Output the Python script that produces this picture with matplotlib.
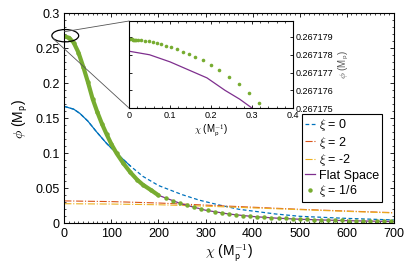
import numpy as np
import matplotlib
matplotlib.use("Agg")
import matplotlib.pyplot as plt
from matplotlib.patches import Ellipse, ConnectionPatch
from matplotlib.ticker import MultipleLocator, FuncFormatter, FormatStrFormatter

plt.rcParams['font.family'] = ['Liberation Sans', 'DejaVu Sans']
plt.rcParams['mathtext.fontset'] = 'cm'

# ---- main panel data (chi in M_p^-1, phi in M_p) ----
chi_b = [0, 20, 33, 50, 68, 90, 111, 140, 167, 200, 223, 250, 287, 330, 371, 449, 500, 600, 700]
phi_xi0 = [0.167, 0.163, 0.157, 0.146, 0.131, 0.114, 0.100, 0.082, 0.067, 0.054, 0.048,
           0.041, 0.033, 0.026, 0.020, 0.0133, 0.010, 0.007, 0.0048]

chi_o = [0, 100, 200, 300, 400, 500, 600, 700]
phi_xi2 = [0.032, 0.031, 0.029, 0.026, 0.023, 0.020, 0.0175, 0.0152]
phi_xim2 = [0.028, 0.0275, 0.0265, 0.0245, 0.022, 0.0195, 0.017, 0.0148]

chi_f = [0, 20, 40, 60, 80, 100, 125, 150, 200, 250, 300, 350, 400, 450, 500, 550, 600, 650, 700]
phi_flat = [0.2671, 0.258, 0.224, 0.178, 0.142, 0.113, 0.086, 0.065, 0.040, 0.0275, 0.0187,
            0.0132, 0.0097, 0.0074, 0.0058, 0.0047, 0.0038, 0.0031, 0.0025]

chi_g = [0, 10, 20, 30, 40, 50, 60, 70, 80, 90, 100, 111, 125, 140, 155, 167, 185, 200,
         215, 230, 245, 260, 275, 290, 305, 320, 335, 350, 365, 380, 395, 410, 425, 440,
         455, 470, 485, 500, 515, 530, 545, 560, 575, 590, 605, 620, 635, 650, 665, 680, 695]
phi_sixth = [0.2671, 0.265, 0.258, 0.244, 0.224, 0.202, 0.178, 0.159, 0.142, 0.127, 0.113,
             0.100, 0.086, 0.073, 0.062, 0.055, 0.047, 0.040,
             0.036, 0.0325, 0.029, 0.026, 0.0232, 0.0205, 0.0183, 0.0164, 0.0148, 0.0134,
             0.0121, 0.011, 0.0101, 0.0093, 0.0086, 0.0080, 0.0074, 0.0069, 0.0064, 0.0060,
             0.0056, 0.0053, 0.0050, 0.0047, 0.0044, 0.0042, 0.0040, 0.0038, 0.0036, 0.0034,
             0.0032, 0.0030, 0.0028]

# ---- inset data (zoom near chi = 0) ----
chi_in_f = [0, 0.05, 0.1, 0.15, 0.19, 0.234, 0.27, 0.3, 0.32]
phi_in_f = [0.2671782, 0.2671780, 0.2671776, 0.2671771, 0.2671767, 0.2671760, 0.2671755,
            0.2671750, 0.2671746]
chi_in_g = [0, 0.003, 0.006, 0.009, 0.012, 0.015, 0.018, 0.021, 0.0285, 0.038, 0.048, 0.058,
            0.069, 0.079, 0.090, 0.102, 0.116, 0.131, 0.146, 0.162, 0.180, 0.199, 0.220,
            0.243, 0.268, 0.292, 0.316]
phi_in_g = [0.26717886, 0.26717886, 0.26717886, 0.26717885, 0.26717885, 0.26717884,
            0.26717884, 0.26717883, 0.26717881, 0.26717879, 0.26717875, 0.26717871,
            0.26717865, 0.26717859, 0.26717850, 0.26717842, 0.26717830, 0.26717817,
            0.26717803, 0.26717788, 0.26717768, 0.26717745, 0.26717714, 0.26717676,
            0.26717637, 0.26717585, 0.26717531]
in_yticks = [0.267175, 0.267176, 0.267177, 0.267178, 0.267179]

blue = '#0072BD'
orange = '#D95319'
yellow = '#EDB120'
purple = '#7E2F8E'
green = '#77AC30'

fig = plt.figure(figsize=(4.15, 2.8), dpi=100)
ax = fig.add_axes([0.155, 0.2025, 0.794, 0.75])

chi_b_arr = np.array(chi_b)
head = chi_b_arr <= 150
ax.plot(chi_b_arr[head], np.array(phi_xi0)[head], color=blue, lw=0.9)
ax.plot(chi_b, phi_xi0, color=blue, lw=0.9, ls=(0, (3, 2)), label=r'$\xi$ = 0')
ax.plot(chi_o, phi_xi2, color=orange, lw=0.8, ls='-.', label=r'$\xi$ = 2')
ax.plot(chi_o, phi_xim2, color=yellow, lw=0.8, ls='-.', label=r'$\xi$ = -2')
ax.plot(chi_f, phi_flat, color=purple, lw=0.9, label='Flat Space')
chi_g_arr = np.array(chi_g)
ghead = chi_g_arr <= 200
ax.plot(chi_g_arr[ghead], np.array(phi_sixth)[ghead], color=green, lw=3.0, solid_capstyle='round')
ax.plot(chi_g, phi_sixth, ls='none', marker='o', ms=3.2, mec='none', color=green, label=r'$\xi$ = 1/6')

ax.set_xlim(0, 700)
ax.set_ylim(0, 0.3)
ax.xaxis.set_major_locator(MultipleLocator(100))
ax.xaxis.set_minor_locator(MultipleLocator(10))
ax.yaxis.set_major_locator(MultipleLocator(0.05))
ax.yaxis.set_minor_locator(MultipleLocator(0.01))
ax.yaxis.set_major_formatter(FuncFormatter(lambda v, p: '%g' % round(v, 4)))
ax.tick_params(which='both', direction='in', top=True, right=True, labelsize=9)
ax.tick_params(which='major', length=3, width=0.6)
ax.tick_params(which='minor', length=1.6, width=0.5)
for s in ax.spines.values():
    s.set_linewidth(0.8)
ax.set_xlabel(r'$\chi$ (M$_\mathsf{p}^\mathsf{-1}$)', fontsize=10, labelpad=2)
ax.set_ylabel(r'$\phi$ (M$_\mathsf{p}$)', fontsize=10, labelpad=4)

leg = ax.legend(loc='lower right', bbox_to_anchor=(0.964, 0.1), fontsize=9,
                handlelength=0.8, handletextpad=0.3, labelspacing=0.12, borderpad=0.25,
                fancybox=False, framealpha=1, edgecolor='black', borderaxespad=0)
leg.get_frame().set_linewidth(0.8)

# zoom marker
ax.add_patch(Ellipse((2, 0.268), width=57, height=0.0176, fill=False, ec='black',
                     lw=0.9, clip_on=False, zorder=5))

ax_in = fig.add_axes([0.311, 0.614, 0.395, 0.311])
ax_in.plot(chi_in_f, phi_in_f, color=purple, lw=0.9)
ax_in.plot(chi_in_g, phi_in_g, ls='none', marker='o', ms=2.6, mec='none', color=green)
ax_in.set_xlim(0, 0.4)
ax_in.set_ylim(0.267175, 0.2671799)
ax_in.xaxis.set_major_locator(MultipleLocator(0.1))
ax_in.xaxis.set_minor_locator(MultipleLocator(0.02))
ax_in.set_yticks(in_yticks)
ax_in.xaxis.set_major_formatter(FuncFormatter(lambda v, p: '%g' % round(v, 3)))
ax_in.yaxis.set_major_formatter(FormatStrFormatter('%.6f'))
ax_in.yaxis.tick_right()
ax_in.yaxis.set_label_position('right')
ax_in.tick_params(which='both', direction='in', top=True, left=True, right=True, labelsize=6.5, pad=2)
ax_in.tick_params(which='major', length=2.5, width=0.6)
ax_in.tick_params(which='minor', length=1.3, width=0.5)
for s in ax_in.spines.values():
    s.set_linewidth(0.8)
ax_in.set_xlabel(r'$\chi$ (M$_\mathsf{p}^\mathsf{-1}$)', fontsize=7, labelpad=2)
ax_in.set_ylabel(r'$\phi$ (M$_\mathsf{p}$)', fontsize=7, labelpad=2, color='#555555')

for xyA, xyB in [((0, 0.2737), (0, 1)), ((-25, 0.2645), (0, 0))]:
    con = ConnectionPatch(xyA=xyA, coordsA=ax.transData, xyB=xyB, coordsB=ax_in.transAxes,
                          color='#555555', lw=0.6)
    fig.add_artist(con)

fig.savefig('out.png', dpi=100)
